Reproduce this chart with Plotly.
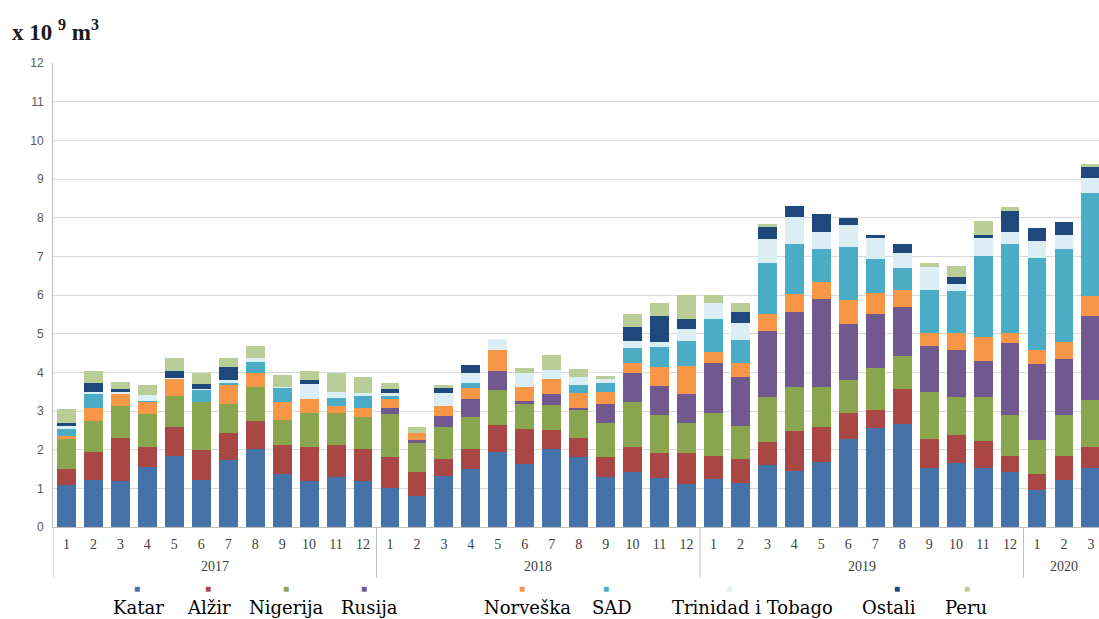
import plotly.graph_objects as go

# Category labels
year_names = ["2017", "2018", "2019", "2020"]
year_month_counts = [12, 12, 12, 3]
months = [str(m) for m in range(1, 13)] * 3 + ["1", "2", "3"]
years = [y for y, n in zip(year_names, year_month_counts) for _ in range(n)]
categories = [f"{y}-{m}" for y, m in zip(years, months)]

series_names = ["Katar", "Alžir", "Nigerija", "Rusija", "Norveška", "SAD",
                "Trinidad i Tobago", "Ostali", "Peru"]
series_colors = ["#4572A8", "#AA4643", "#89A54E", "#71588F", "#F79646",
                 "#4BACC6", "#DCEEF5", "#1F497D", "#B9CD96"]

katar = [1.08, 1.22, 1.19, 1.54, 1.84, 1.22, 1.72, 2.02, 1.36, 1.19, 1.30, 1.19,
         1.02, 0.81, 1.32, 1.49, 1.93, 1.63, 2.01, 1.80, 1.30, 1.43, 1.28, 1.10,
         1.24, 1.13, 1.60, 1.45, 1.69, 2.28, 2.55, 2.66, 1.52, 1.66, 1.52, 1.43,
         0.96, 1.22, 1.53]
alzir = [0.43, 0.73, 1.12, 0.54, 0.75, 0.78, 0.70, 0.73, 0.76, 0.89, 0.82, 0.84,
         0.80, 0.62, 0.43, 0.52, 0.71, 0.90, 0.50, 0.51, 0.50, 0.63, 0.63, 0.81,
         0.60, 0.62, 0.61, 1.03, 0.90, 0.66, 0.48, 0.91, 0.75, 0.72, 0.70, 0.41,
         0.41, 0.62, 0.55]
nigerija = [0.76, 0.79, 0.82, 0.84, 0.81, 1.22, 0.76, 0.88, 0.66, 0.88, 0.82, 0.81,
            1.10, 0.73, 0.83, 0.83, 0.90, 0.65, 0.65, 0.72, 0.88, 1.16, 0.99, 0.77,
            1.12, 0.86, 1.14, 1.15, 1.04, 0.86, 1.07, 0.84, 1.23, 0.99, 1.15, 1.06,
            0.88, 1.06, 1.20]
rusija = [0, 0, 0, 0, 0, 0, 0, 0, 0, 0, 0, 0,
          0.17, 0.09, 0.30, 0.46, 0.50, 0.09, 0.28, 0.06, 0.50, 0.75, 0.75, 0.76,
          1.27, 1.28, 1.72, 1.92, 2.26, 1.44, 1.41, 1.27, 1.18, 1.21, 0.93, 1.85,
          1.97, 1.44, 2.18]
norveska = [0.08, 0.35, 0.31, 0.32, 0.43, 0.00, 0.48, 0.36, 0.44, 0.34, 0.20, 0.25,
            0.21, 0.17, 0.25, 0.30, 0.54, 0.36, 0.39, 0.37, 0.32, 0.28, 0.48, 0.72,
            0.30, 0.36, 0.44, 0.47, 0.44, 0.63, 0.53, 0.45, 0.35, 0.43, 0.62, 0.28,
            0.36, 0.44, 0.52]
sad = [0.18, 0.34, 0.02, 0.03, 0.00, 0.34, 0.06, 0.29, 0.39, 0.00, 0.20, 0.31,
       0.09, 0.00, 0.00, 0.12, 0.00, 0.00, 0.00, 0.21, 0.22, 0.39, 0.53, 0.65,
       0.84, 0.59, 1.33, 1.29, 0.86, 1.38, 0.89, 0.56, 1.10, 1.10, 2.09, 2.28,
       2.37, 2.41, 2.65]
trinidad = [0.07, 0.07, 0.02, 0.14, 0.02, 0.02, 0.08, 0.08, 0.02, 0.39, 0.16, 0.07,
            0.07, 0.00, 0.34, 0.25, 0.27, 0.34, 0.23, 0.22, 0.11, 0.17, 0.13, 0.30,
            0.43, 0.43, 0.60, 0.70, 0.45, 0.56, 0.54, 0.40, 0.60, 0.17, 0.46, 0.33,
            0.45, 0.36, 0.40]
ostali = [0.10, 0.22, 0.10, 0.00, 0.19, 0.12, 0.33, 0.00, 0.00, 0.11, 0.00, 0.00,
          0.12, 0.00, 0.12, 0.23, 0.00, 0.00, 0.00, 0.00, 0.00, 0.37, 0.67, 0.26,
          0.00, 0.30, 0.33, 0.30, 0.45, 0.19, 0.08, 0.22, 0.00, 0.19, 0.08, 0.52,
          0.32, 0.35, 0.27]
peru = [0.35, 0.31, 0.17, 0.25, 0.32, 0.29, 0.23, 0.33, 0.30, 0.24, 0.49, 0.42,
        0.14, 0.17, 0.08, 0.00, 0.00, 0.13, 0.39, 0.19, 0.08, 0.33, 0.34, 0.63,
        0.20, 0.23, 0.07, 0.00, 0.00, 0.00, 0.00, 0.00, 0.09, 0.29, 0.37, 0.11,
        0.00, 0.00, 0.09]

series_values = [katar, alzir, nigerija, rusija, norveska, sad, trinidad, ostali, peru]

# legend label / marker horizontal placement (pixels in the figure)
legend_label_x = [138, 209, 286, 369, 527, 612, 752, 889, 966]
legend_marker_x = [137, 208, 286, 364, 522, 606, 729, 897, 967]

W, H = 1099, 619
ML, MR, MT, MB = 53, 0, 63, 92
PW, PH = W - ML - MR, H - MT - MB
AXIS_GRAY = "#BFBFBF"

fig = go.Figure()
for name, color, vals in zip(series_names, series_colors, series_values):
    fig.add_trace(go.Bar(
        x=categories, y=vals, name=name,
        marker=dict(color=color, line=dict(width=0)),
        showlegend=False,
    ))

fig.update_layout(
    width=W, height=H,
    barmode="stack", bargap=0.3,
    plot_bgcolor="white", paper_bgcolor="white",
    margin=dict(l=ML, r=MR, t=MT, b=MB, autoexpand=False),
    xaxis=dict(
        type="category",
        categoryorder="array", categoryarray=categories,
        range=[-0.5, 38.3],
        tickvals=categories, ticktext=months,
        showline=True, linecolor=AXIS_GRAY, linewidth=1,
        showgrid=False,
        ticks="", ticklabelstandoff=4,
        tickfont=dict(family="Liberation Serif", size=14, color="#404040"),
    ),
    yaxis=dict(
        range=[0, 12], dtick=1, tick0=0,
        showgrid=True, gridcolor="#D9D9D9", gridwidth=1,
        showline=True, linecolor=AXIS_GRAY, linewidth=1,
        zeroline=False,
        ticks="", ticklabelstandoff=6,
        tickfont=dict(family="Liberation Sans", size=12, color="#595959"),
    ),
)

# year group labels and dividers (two-level category axis)
shapes = []
annotations = []
start = 0
div_bottom = -(578 - (MT + PH)) / PH
for yname, n in zip(year_names, year_month_counts):
    shapes.append(dict(type="line", xref="x", yref="paper",
                       x0=start - 0.5, x1=start - 0.5, y0=0, y1=div_bottom,
                       line=dict(color=AXIS_GRAY, width=1)))
    annotations.append(dict(text=yname, xref="x", yref="paper",
                            x=start + (n - 1) / 2, y=-(566 - (MT + PH)) / PH,
                            xanchor="center", yanchor="middle", showarrow=False,
                            font=dict(family="Liberation Serif", size=14, color="#404040")))
    start += n

annotations.append(dict(
    text="<b>x 10 <sup>9</sup> m<sup>3</sup></b>", xref="paper", yref="paper",
    x=(10 - ML) / PW, y=1 + (MT - 30) / PH, xanchor="left", yanchor="middle",
    showarrow=False,
    font=dict(family="Liberation Serif", size=23, color="#1a1a1a")))

for name, color, lx, mx in zip(series_names, series_colors, legend_label_x, legend_marker_x):
    annotations.append(dict(
        text="■", xref="paper", yref="paper",
        x=(mx - ML) / PW, y=-(588 - (MT + PH)) / PH,
        xanchor="center", yanchor="middle", showarrow=False,
        font=dict(size=10, color=color)))
    annotations.append(dict(
        text=name, xref="paper", yref="paper",
        x=(lx - ML) / PW, y=-(607 - (MT + PH)) / PH,
        xanchor="center", yanchor="middle", showarrow=False,
        font=dict(family="DejaVu Serif", size=18, color="black")))

fig.update_layout(shapes=shapes, annotations=annotations)

fig.write_html("out.html", post_script="document.body.style.margin='0';",
               config={"displayModeBar": False})
